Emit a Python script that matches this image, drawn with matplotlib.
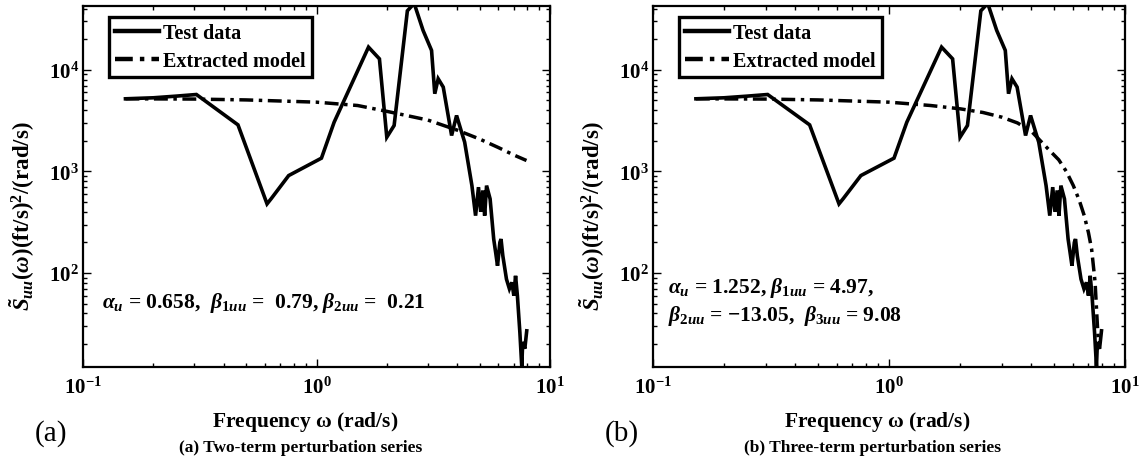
import matplotlib
matplotlib.use("Agg")
import matplotlib.pyplot as plt
from matplotlib.lines import Line2D

# Measured PSD (same test record in both panels)
freq_test = [0.152, 0.20, 0.25, 0.306, 0.461, 0.614, 0.64, 0.760, 1.05, 1.19,
             1.67, 1.86, 2.00, 2.15, 2.45, 2.62, 2.86, 3.11, 3.21, 3.32,
             3.49, 3.79, 3.98, 4.18, 4.31, 4.63, 4.80, 4.94, 5.05, 5.16,
             5.25, 5.35, 5.54, 5.74, 5.85, 5.96, 6.10, 6.17, 6.28, 6.51,
             6.70, 6.87, 7.00, 7.12, 7.25, 7.43, 7.57, 7.64, 7.80, 7.95]
psd_test = [5180, 5300, 5500, 5710, 2870, 479, 540, 910, 1350, 3050,
            16700, 12800, 2170, 2830, 38000, 45000, 24400, 15500, 5810, 8150,
            6750, 2255, 3550, 2440, 1940, 725, 367, 700, 400, 650,
            367, 725, 536, 216, 160, 118, 200, 216, 148, 87,
            70, 81, 60, 94, 60, 26, 12, 21, 18, 27]

# Two-term model
freq_model_a = [0.152, 0.3, 0.5, 1.0, 1.5, 2.0, 3.0, 4.0, 5.0, 6.0, 7.0, 7.93]
psd_model_a = [5180, 5150, 5050, 4800, 4450, 3900, 3200, 2550, 2080, 1720, 1450, 1280]

# Three-term model
freq_model_b = [0.152, 0.3, 0.5, 1.0, 1.5, 2.0, 2.5, 3.0, 3.5, 4.0, 4.38,
                4.8, 5.24, 5.64, 6.04, 6.4, 6.72, 7.0, 7.22, 7.47, 7.60, 7.74]
psd_model_b = [5180, 5150, 5050, 4800, 4450, 4130, 3800, 3420, 3000, 2500, 2000,
               1600, 1300, 1000, 725, 520, 367, 250, 172, 81, 38, 17.8]

coef_text_a = r"$\alpha_u$ = 0.658,  $\beta_{1uu}$ =  0.79, $\beta_{2uu}$ =  0.21"
coef_text_b = (r"$\alpha_u$ = 1.252, $\beta_{1uu}$ = 4.97," "\n"
               r"$\beta_{2uu}$ = −13.05,  $\beta_{3uu}$ = 9.08")
captions = ["(a) Two-term perturbation series", "(b) Three-term perturbation series"]
panel_tags = ["(a)", "(b)"]

plt.rcParams["font.family"] = ["Liberation Serif", "DejaVu Serif"]
plt.rcParams["font.weight"] = "bold"
plt.rcParams["mathtext.fontset"] = "custom"
plt.rcParams["mathtext.rm"] = "Liberation Serif:bold"
plt.rcParams["mathtext.it"] = "Liberation Serif:italic:bold"
plt.rcParams["mathtext.bf"] = "Liberation Serif:bold"

fig = plt.figure(figsize=(11.43, 4.6), dpi=100)
W, H = 1143, 460
boxes = [(83, 550), (653, 1125)]
top, bottom = 7, 368

panels = [(freq_model_a, psd_model_a, coef_text_a, (102, 303)),
          (freq_model_b, psd_model_b, coef_text_b, (668, 302))]

for i, (fm, pm, coef, (tx, ty)) in enumerate(panels):
    x0, x1 = boxes[i]
    ax = fig.add_axes([x0 / W, (H - bottom) / H, (x1 - x0) / W, (bottom - top) / H])
    ax.loglog(freq_test, psd_test, color="black", lw=2.6, solid_joinstyle="miter")
    ax.loglog(fm, pm, color="black", lw=2.5, dashes=(4, 1.6, 1, 1.6))
    ax.set_xlim(0.1, 10)
    ax.set_ylim(11.9, 42400)

    for s in ax.spines.values():
        s.set_linewidth(1.6)
    ax.tick_params(which="both", direction="in", top=True, right=True, width=1.0)
    ax.tick_params(which="major", length=6, labelsize=15)
    ax.tick_params(axis="x", which="major", pad=7)
    ax.tick_params(axis="y", which="major", pad=3)
    ax.tick_params(which="minor", length=3)

    ax.set_xlabel(r"Frequency $\mathbf{\omega}$ (rad/s)", fontsize=15.5, fontweight="bold")
    ax.xaxis.set_label_coords(0.475, -0.115)
    ax.set_ylabel(r"$\tilde{S}_{uu}(\omega)$(ft/s)$^2$/(rad/s)", fontsize=16.5,
                  fontweight="bold")
    ax.yaxis.set_label_coords(-0.098, 0.42)

    handles = [Line2D([], [], color="black", lw=3.2),
               Line2D([], [], color="black", lw=3.2, dashes=(4, 1.6, 1, 1.6))]
    leg = ax.legend(handles, ["Test data", "Extracted model"], loc="upper left",
                    bbox_to_anchor=(26 / (x1 - x0), 0.97),
                    fancybox=False, framealpha=1, edgecolor="black",
                    prop={"family": "Liberation Serif", "weight": "bold", "size": 14.5},
                    handlelength=2.2, handletextpad=0.2, borderpad=0.3,
                    labelspacing=0.4, borderaxespad=0)
    leg.get_frame().set_linewidth(2.4)

    fig.text(tx / W, 1 - ty / H, coef, fontsize=15.5, fontweight="bold",
             ha="left", va="center", linespacing=1.25)

    cx = (x0 + x1) / 2 - 16
    fig.text(cx / W, 1 - 448 / H, captions[i], fontsize=12.5, fontweight="bold",
             ha="center", va="center")
    fig.text((x0 - 48) / W, 1 - 434 / H, panel_tags[i], fontsize=21,
             fontweight="normal", ha="left", va="center")

fig.savefig("out.png", dpi=100)
